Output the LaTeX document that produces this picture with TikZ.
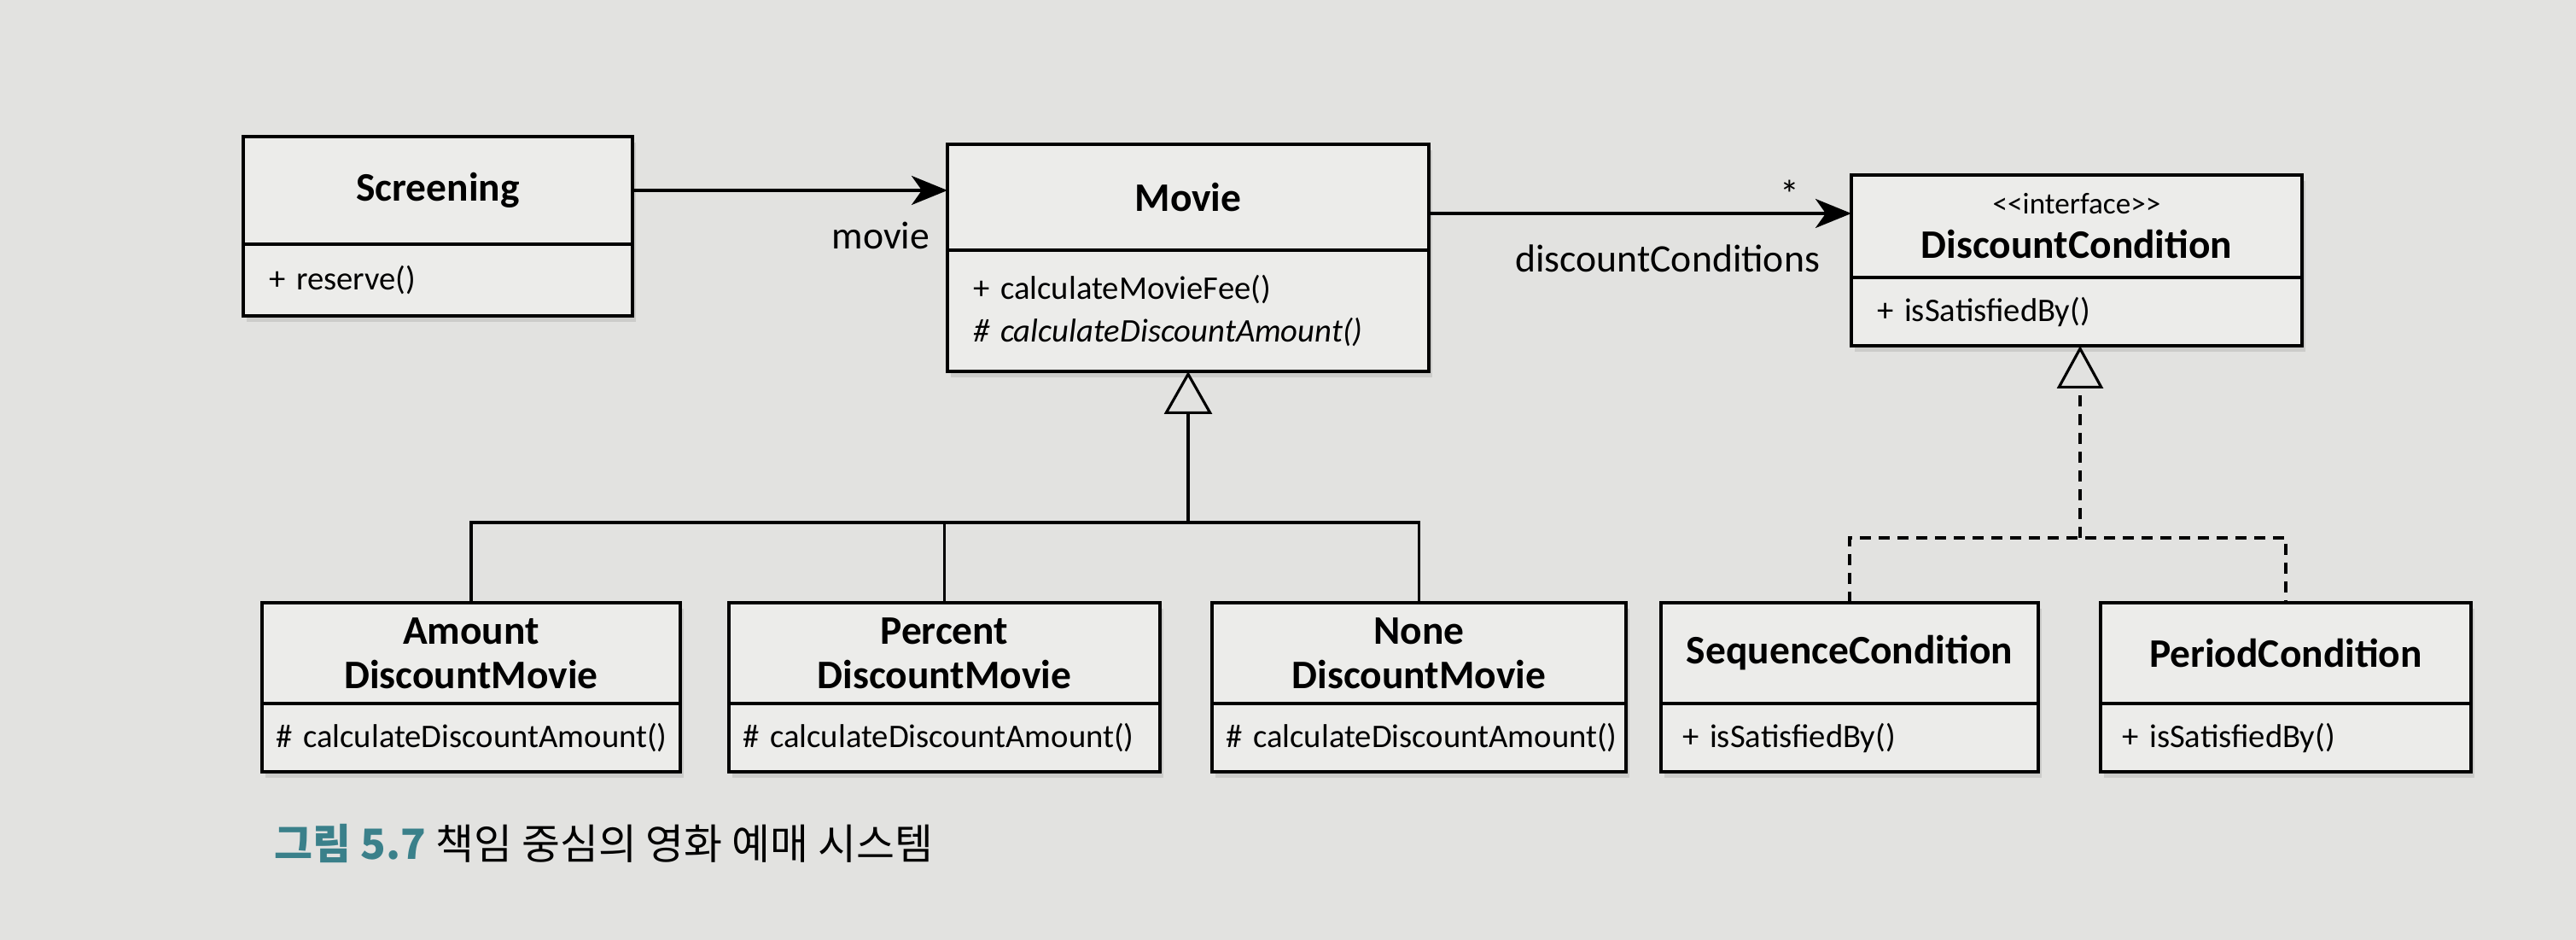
\documentclass[tikz,border=0pt]{standalone}
\usepackage{fontspec}
\setmainfont{Carlito}
\newfontfamily\krfont{Noto Sans CJK KR}
\usepackage{tikz}
\usetikzlibrary{arrows.meta,positioning,shadows}
\definecolor{paper}{RGB}{226,226,224}
\definecolor{boxfill}{RGB}{236,236,234}
\definecolor{capteal}{RGB}{58,128,138}

\begin{document}
\begin{tikzpicture}[
        >={Stealth[length=4.2mm,width=3.4mm,inset=1.2mm]},
        cls/.style={draw, fill=boxfill, line width=1.3pt, inner sep=0pt, outer sep=0pt,
                    align=center, font=\fontsize{13.5}{14.8}\selectfont\bfseries,
                    drop shadow={shadow xshift=0.4mm, shadow yshift=-0.7mm, opacity=0.22}},
        ops/.style={draw, fill=boxfill, line width=1.3pt, inner ysep=0pt, inner xsep=3mm,
                    outer sep=0pt, align=left, text width=#1,
                    font=\fontsize{11}{14.2}\selectfont,
                    drop shadow={shadow xshift=0.4mm, shadow yshift=-0.7mm, opacity=0.22}},
        lbl/.style={inner sep=0pt, font=\fontsize{13}{15}\selectfont},
        assoc/.style={->, line width=1.1pt},
        genline/.style={line width=0.9pt},
        inherit/.style={-{Triangle[open, length=5mm, width=5.6mm]}, line width=0.9pt},
        realize/.style={-{Triangle[open, length=5mm, width=5.4mm]}, line width=0.9pt,
                        dash pattern=on 1.3mm off 0.9mm},
        dashline/.style={line width=0.9pt, dash pattern=on 1.3mm off 0.9mm}
    ]
    \fill[paper] (0,0) rectangle (30.18,-11.01);
    \useasboundingbox (0,0) rectangle (30.18,-11.01);

    % top row
    \node[cls, minimum width=4.56cm, minimum height=1.26cm] (scr) at (5.13,-2.23) {Screening};
    \node[ops=3.96cm, minimum height=0.84cm, below=0pt of scr] (scr-m) {+ reserve()};

    \node[cls, minimum width=5.64cm, minimum height=1.24cm] (mv) at (13.92,-2.31) {Movie};
    \node[ops=5.04cm, minimum height=1.42cm, below=0pt of mv] (mv-m)
        {+ calculateMovieFee()\\ \itshape\# calculateDiscountAmount()};

    \node[cls, minimum width=5.28cm, minimum height=1.20cm] (dc) at (24.33,-2.65)
        {{\fontsize{10}{12}\selectfont\mdseries <{}<interface>{}>}\\ DiscountCondition};
    \node[ops=4.68cm, minimum height=0.80cm, below=0pt of dc] (dc-m) {+ isSatisfiedBy()};

    % bottom row
    \node[cls, minimum width=4.90cm, minimum height=1.18cm] (am) at (5.52,-7.65) {Amount\\ DiscountMovie};
    \node[ops=4.58cm, inner xsep=1.6mm, minimum height=0.80cm, below=0pt of am] (am-m)
        {\mbox{\# calculateDiscountAmount()}};

    \node[cls, minimum width=5.05cm, minimum height=1.18cm] (pc) at (11.065,-7.65) {Percent\\ DiscountMovie};
    \node[ops=4.73cm, inner xsep=1.6mm, minimum height=0.80cm, below=0pt of pc] (pc-m)
        {\mbox{\# calculateDiscountAmount()}};

    \node[cls, minimum width=4.85cm, minimum height=1.18cm] (nn) at (16.625,-7.65) {None\\ DiscountMovie};
    \node[ops=4.53cm, inner xsep=1.6mm, minimum height=0.80cm, below=0pt of nn] (nn-m)
        {\mbox{\# calculateDiscountAmount()}};

    \node[cls, minimum width=4.42cm, minimum height=1.18cm] (sq) at (21.67,-7.65) {SequenceCondition};
    \node[ops=3.92cm, inner xsep=2.5mm, minimum height=0.80cm, below=0pt of sq] (sq-m) {+ isSatisfiedBy()};

    \node[cls, minimum width=4.34cm, minimum height=1.18cm] (pd) at (26.78,-7.65) {PeriodCondition};
    \node[ops=3.84cm, inner xsep=2.5mm, minimum height=0.80cm, below=0pt of pd] (pd-m) {+ isSatisfiedBy()};

    % associations
    \draw[assoc] (scr.east) -- (scr.east -| mv.west)
        node[lbl, pos=1, anchor=north east, xshift=-1.9mm, yshift=-3.5mm] (movlbl) {movie};
    \draw[assoc] ([yshift=-1.9mm]mv.east) -- ([yshift=-1.9mm]mv.east -| dc.west)
        node[lbl, pos=1, anchor=base east, xshift=-5.9mm, yshift=0.6mm] (mult) {*}
        node[lbl, pos=1, anchor=north east, xshift=-3.5mm, yshift=-3.5mm] (dclbl) {discountConditions};

    % generalization
    \coordinate (mvj) at (13.92,-6.12);
    \draw[inherit] (mvj) -- (mv-m.south);
    \draw[genline] (am.north) |- (mvj) -| (nn.north);
    \draw[genline] (pc.north) -- (pc.north |- mvj);

    % realization
    \coordinate (dcj) at (24.37,-6.30);
    \draw[realize] (dcj) -- (dcj |- dc-m.south);
    \draw[dashline] (sq.north) |- (dcj) -| (pd.north);

    \node[anchor=west, inner sep=0pt, font=\krfont\fontsize{13.9}{16}\selectfont] (cap) at (3.21,-9.88)
        {{\color{capteal}\bfseries 그림 5.7}\ 책임 중심의 영화 예매 시스템};
\end{tikzpicture}
\end{document}
